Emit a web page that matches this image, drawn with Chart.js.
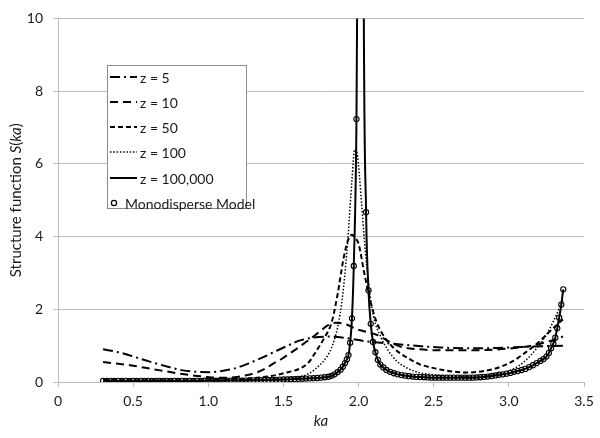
<!DOCTYPE html>
<html>
<head>
<meta charset="utf-8">
<script src="https://cdn.jsdelivr.net/npm/chart.js@4/dist/chart.umd.min.js"></script>
<style>
html,body{margin:0;padding:0;background:#fff;}
#wrap{width:600px;height:438px;position:relative;}
</style>
</head>
<body>
<div id="wrap"><canvas id="c" width="600" height="438"></canvas></div>
<script>
// ---------- data ----------
const X_TICKS = [0, 0.5, 1, 1.5, 2, 2.5, 3, 3.5];
const Y_TICKS = [0, 2, 4, 6, 8, 10];
const SERIES_LABELS = ['z = 5', 'z = 10', 'z = 50', 'z = 100', 'z = 100,000', 'Monodisperse Model'];

const Z5_KA = [0.30,0.40,0.48,0.57,0.66,0.75,0.83,0.92,1.01,1.10,1.19,1.28,1.37,1.455,1.54,1.60,1.70,1.80,1.90,2.05,2.23,2.40,2.54,2.70,2.85,3.00,3.20,3.36];
const Z5_S  = [0.90,0.82,0.73,0.61,0.50,0.40,0.32,0.28,0.27,0.31,0.39,0.53,0.69,0.86,1.02,1.13,1.22,1.25,1.22,1.12,1.05,0.99,0.95,0.93,0.93,0.95,0.98,1.00];

const Z10_KA = [0.30,0.40,0.48,0.58,0.68,0.78,0.88,0.97,1.06,1.13,1.19,1.26,1.32,1.38,1.43,1.49,1.54,1.60,1.65,1.70,1.75,1.80,1.85,1.92,1.99,2.05,2.12,2.20,2.28,2.40,2.54,2.70,2.85,3.00,3.15,3.25,3.36];
const Z10_S  = [0.55,0.50,0.46,0.39,0.32,0.25,0.19,0.15,0.12,0.12,0.14,0.19,0.26,0.37,0.50,0.64,0.78,0.95,1.10,1.25,1.42,1.57,1.63,1.58,1.45,1.38,1.30,1.12,0.97,0.90,0.87,0.87,0.88,0.92,1.00,1.10,1.25];

const Z50_KA = [0.30,0.50,0.70,0.90,1.10,1.25,1.35,1.45,1.53,1.61,1.67,1.72,1.77,1.82,1.86,1.90,1.93,1.955,1.98,2.00,2.04,2.08,2.12,2.17,2.23,2.28,2.34,2.40,2.48,2.56,2.64,2.72,2.80,2.87,2.94,3.03,3.12,3.20,3.25,3.30,3.36];
const Z50_S  = [0.06,0.05,0.05,0.05,0.06,0.09,0.13,0.19,0.27,0.37,0.55,0.86,1.20,1.63,2.40,3.40,3.90,4.05,3.95,3.80,2.95,2.20,1.65,1.25,0.95,0.78,0.63,0.50,0.40,0.33,0.28,0.26,0.28,0.33,0.41,0.58,0.84,1.10,1.30,1.50,1.72];

const Z100_KA = [0.30,0.60,0.90,1.20,1.35,1.45,1.55,1.61,1.68,1.74,1.79,1.83,1.87,1.90,1.93,1.955,1.975,1.99,2.005,2.02,2.04,2.07,2.10,2.15,2.20,2.25,2.33,2.41,2.50,2.60,2.70,2.80,2.90,3.00,3.10,3.20,3.25,3.30,3.36];
const Z100_S  = [0.04,0.04,0.04,0.05,0.07,0.09,0.12,0.14,0.26,0.46,0.70,1.05,1.70,2.60,4.00,5.50,6.40,6.30,5.70,4.92,3.84,2.60,1.80,1.22,0.85,0.59,0.37,0.25,0.20,0.16,0.15,0.16,0.20,0.30,0.55,1.00,1.30,1.70,2.25];

// monodisperse model (also traced by the z = 100,000 line)
const MONO_KA = [
0.300,0.325,0.350,0.375,0.400,0.425,0.450,0.475,0.500,0.525,0.550,0.575,0.600,0.625,0.650,0.675,0.700,0.725,0.750,0.775,0.800,
0.825,0.850,0.875,0.900,0.925,0.950,0.975,1.000,1.025,1.050,1.075,1.100,1.125,1.150,1.175,1.200,
1.225,1.250,1.275,1.300,1.325,1.350,1.375,1.400,
1.425,1.450,1.475,1.500,1.525,1.550,1.575,1.600,
1.625,1.650,1.675,1.700,1.725,1.750,1.775,1.800,
1.82,1.84,1.86,1.88,1.895,1.91,1.922,1.933,1.944,1.956,
1.968,1.986,2.002,2.018,2.034,2.050,2.066,2.081,2.096,2.112,
2.128,2.145,2.165,2.185,2.21,2.235,2.26,2.285,2.31,2.335,
2.36,2.385,2.41,2.435,2.46,2.485,
2.51,2.535,2.56,2.585,2.61,2.635,2.66,2.685,2.71,2.735,2.76,
2.785,2.81,2.835,2.86,2.885,2.91,2.935,2.96,2.985,3.01,
3.035,3.06,3.085,3.11,3.135,3.16,3.185,3.21,3.23,3.25,
3.266,3.281,3.296,3.309,3.322,3.335,3.349,3.362];
const MONO_S = [
0.03,0.03,0.03,0.03,0.03,0.03,0.03,0.03,0.03,0.03,0.03,0.03,0.03,0.03,0.03,0.03,0.03,0.03,0.03,0.03,0.03,
0.03,0.03,0.03,0.03,0.03,0.03,0.035,0.035,0.035,0.035,0.035,0.035,0.04,0.04,0.04,0.04,
0.04,0.04,0.045,0.045,0.05,0.05,0.05,0.055,
0.06,0.06,0.065,0.07,0.07,0.075,0.08,0.085,
0.09,0.095,0.10,0.105,0.11,0.12,0.13,0.145,
0.17,0.21,0.27,0.34,0.42,0.52,0.62,0.74,1.08,1.75,
3.19,7.23,18,40,11,4.67,2.52,1.60,1.10,0.82,
0.61,0.48,0.40,0.33,0.28,0.24,0.21,0.19,0.175,0.16,
0.15,0.14,0.135,0.13,0.125,0.12,
0.12,0.12,0.12,0.12,0.12,0.12,0.12,0.12,0.12,0.12,0.12,
0.125,0.13,0.14,0.15,0.165,0.18,0.20,0.21,0.23,0.25,
0.28,0.30,0.33,0.36,0.41,0.46,0.52,0.58,0.63,0.70,
0.80,0.93,1.06,1.22,1.48,1.77,2.13,2.55];

// ---------- helpers ----------
const pts = (xs, ys) => xs.map((x, i) => ({x: x, y: ys[i]}));
const FONT = 'Lato, "Open Sans", "DejaVu Sans", sans-serif';
const GRID = '#bcbcbc';
const TXT = '#1a1a1a';

const legendBox = {left: 107, top: 65, right: 246, bottom: 208};

const customLegend = {
  id: 'customLegend',
  afterDraw(chart) {
    const ctx = chart.ctx;
    ctx.save();
    ctx.fillStyle = '#fff';
    ctx.fillRect(legendBox.left, legendBox.top, legendBox.right - legendBox.left, legendBox.bottom - legendBox.top);
    ctx.strokeStyle = '#8c8c8c';
    ctx.lineWidth = 1;
    ctx.setLineDash([]);
    ctx.strokeRect(legendBox.left + 0.5, legendBox.top + 0.5, legendBox.right - legendBox.left, legendBox.bottom - legendBox.top);
    const rows = [77, 102, 127, 152, 178, 203];
    ctx.font = '14px ' + FONT;
    ctx.textBaseline = 'middle';
    ctx.textAlign = 'left';
    chart.data.datasets.forEach((ds, i) => {
      const y = rows[i];
      if (ds.showLine === false) {
        ctx.beginPath();
        ctx.setLineDash([]);
        ctx.lineWidth = 1.2;
        ctx.strokeStyle = '#000';
        ctx.arc(114, y, 2.6, 0, Math.PI * 2);
        ctx.stroke();
        ctx.fillStyle = TXT;
        ctx.fillText(ds.label, 125, y + 1);
      } else {
        ctx.beginPath();
        ctx.setLineDash(ds.borderDash || []);
        ctx.lineDashOffset = 0;
        ctx.lineWidth = ds.borderWidth;
        ctx.strokeStyle = ds.borderColor;
        ctx.moveTo(110, y);
        ctx.lineTo(137, y);
        ctx.stroke();
        ctx.setLineDash([]);
        ctx.fillStyle = TXT;
        ctx.fillText(ds.label, 140, y + 1);
      }
    });
    ctx.restore();
  }
};

const axisTitles = {
  id: 'axisTitles',
  afterDraw(chart) {
    const ctx = chart.ctx;
    const a = chart.chartArea;
    ctx.save();
    ctx.fillStyle = TXT;
    ctx.textBaseline = 'middle';
    ctx.font = 'italic 15px ' + FONT;
    ctx.textAlign = 'center';
    ctx.fillText('ka', (a.left + a.right) / 2, 421);
    const parts = [
      ['Structure function ', 'normal'],
      ['S', 'italic'],
      ['(', 'normal'],
      ['ka', 'italic'],
      [')', 'normal']
    ];
    let total = 0;
    parts.forEach(p => { ctx.font = p[1] + ' 15px ' + FONT; total += ctx.measureText(p[0]).width; });
    ctx.translate(16, (a.top + a.bottom) / 2);
    ctx.rotate(-Math.PI / 2);
    ctx.textAlign = 'left';
    let x = -total / 2;
    parts.forEach(p => {
      ctx.font = p[1] + ' 15px ' + FONT;
      ctx.fillText(p[0], x, 0);
      x += ctx.measureText(p[0]).width;
    });
    ctx.restore();
  }
};

const lineBase = {
  pointRadius: 0,
  pointHoverRadius: 0,
  fill: false,
  cubicInterpolationMode: 'monotone',
  borderColor: '#000',
  backgroundColor: '#000'
};

new Chart(document.getElementById('c'), {
  type: 'line',
  data: {
    datasets: [
      Object.assign({}, lineBase, {label: SERIES_LABELS[0], data: pts(Z5_KA, Z5_S), borderWidth: 2, borderDash: [10, 4, 2, 4]}),
      Object.assign({}, lineBase, {label: SERIES_LABELS[1], data: pts(Z10_KA, Z10_S), borderWidth: 2, borderDash: [8, 5]}),
      Object.assign({}, lineBase, {label: SERIES_LABELS[2], data: pts(Z50_KA, Z50_S), borderWidth: 2, borderDash: [5, 3]}),
      Object.assign({}, lineBase, {label: SERIES_LABELS[3], data: pts(Z100_KA, Z100_S), borderWidth: 1.5, borderDash: [1.5, 1.8]}),
      Object.assign({}, lineBase, {label: SERIES_LABELS[4], data: pts(MONO_KA, MONO_S), borderWidth: 2, borderDash: []}),
      {
        label: SERIES_LABELS[5],
        data: pts(MONO_KA, MONO_S),
        showLine: false,
        pointStyle: 'circle',
        pointRadius: 2.6,
        pointHoverRadius: 2.6,
        pointBorderWidth: 1.1,
        pointBorderColor: '#000',
        pointBackgroundColor: 'rgba(255,255,255,0)',
        borderColor: '#000',
        backgroundColor: 'rgba(255,255,255,0)'
      }
    ]
  },
  options: {
    responsive: false,
    animation: false,
    devicePixelRatio: 1,
    events: [],
    layout: {padding: {top: 12, right: 16, left: 0, bottom: 0}},
    plugins: {legend: {display: false}, tooltip: {enabled: false}, title: {display: false}},
    scales: {
      x: {
        type: 'linear',
        min: 0, max: 3.5,
        afterFit(s) { s.height = 56; },
        afterBuildTicks(s) { s.ticks = X_TICKS.map(v => ({value: v})); },
        grid: {drawOnChartArea: false, drawTicks: true, tickLength: 5, color: GRID, lineWidth: 1},
        border: {display: true, color: GRID, width: 1},
        ticks: {color: TXT, font: {family: FONT, size: 14}, padding: 6, maxRotation: 0, autoSkip: false},
        title: {display: false}
      },
      y: {
        type: 'linear',
        min: 0, max: 10,
        afterFit(s) { s.width = 58; },
        afterBuildTicks(s) { s.ticks = Y_TICKS.map(v => ({value: v})); },
        grid: {drawOnChartArea: true, drawTicks: true, tickLength: 5, color: GRID, lineWidth: 1},
        border: {display: true, color: GRID, width: 1},
        ticks: {color: TXT, font: {family: FONT, size: 14}, padding: 10, autoSkip: false},
        title: {display: false}
      }
    }
  },
  plugins: [customLegend, axisTitles]
});
</script>
</body>
</html>
